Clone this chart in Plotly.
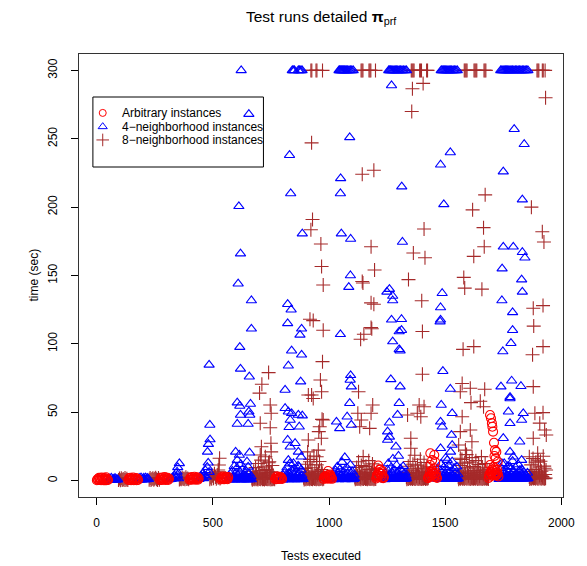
import plotly.graph_objects as go

# ---------------------------------------------------------------------------
# Test-run timings (seconds) by test index, for the three instance families.
# Dense near-zero runs are stored as (first test, test stride, [times]).
# ---------------------------------------------------------------------------

ARB_RUNS = [
    (1, 3, [0.3, 1.2, 0.4, 2.0, 0.5, 1.5, 0.3, 2.2, 0.6, 1.3, 0.2, 1.8, 0.3, 2.4, 0.3, 1.1, 0.4]),
    (136, 3, [0.4, 1.6, 0.5, 2.1, 0.3, 1.4, 0.7, 2.3, 0.3, 1.2, 0.6, 1.9, 0.3, 1.4, 0.5]),
    (272, 3, [0.5, 1.9, 0.4, 2.3, 0.7, 1.5, 0.9, 2.6, 0.5, 1.7, 0.8, 2.1, 0.5, 1.4]),
    (400, 3, [0.6, 2.0, 0.7, 2.6, 0.9, 1.7, 1.1, 2.8, 0.6, 1.9, 1.0, 2.4, 0.7, 1.6]),
    (533, 3, [0.8, 2.2, 1.2, 2.9, 1.1, 1.8, 1.0, 2.7, 1.2, 2.0, 1.0, 2.5]),
    (768, 3, [1.0, 2.4, 1.1, 3.0, 1.2, 2.0, 1.4, 2.8, 1.3, 2.2, 1.2]),
    (977, 3, [1.2, 2.8, 2.5, 1.5, 3.1, 2.2, 1.4, 4.0, 2.8, 1.6, 3.5, 2.0, 1.3]),
    (1203, 3, [1.5, 2.6, 4.2, 3.1, 6.0, 8.2, 5.1, 3.4, 2.2, 7.0, 1.8, 2.4]),
    (1426, 3, [1.8, 3.0, 2.6, 6.2, 4.0, 3.3, 7.5, 5.0, 3.2, 2.6, 4.8, 3.2, 2.6, 1.9]),
    (1687, 3, [2.0, 4.5, 3.0, 6.5, 5.2, 8.0, 3.6, 7.2, 4.4, 9.0, 5.5, 3.8, 6.0, 5.0, 3.0]),
]
ARB_PEAKS = [
    (1693, 48.0), (1697, 45.6), (1701, 42.0), (1703, 39.4), (1706, 35.8), (1710, 27.7),
    (1714, 22.3), (1720, 21.0), (1717, 16.3), (1726, 13.8), (1693, 11.4), (1708, 10.0),
    (1712, 18.0), (1724, 8.0), (1698, 6.0), (1716, 4.0),
    (1436, 20.0), (1453, 18.7), (1444, 15.0), (1457, 13.5), (1436, 11.4), (1453, 9.0),
    (1444, 6.2), (1460, 5.5), (1431, 2.6),
    (1212, 11.0), (1220, 8.0), (1228, 5.0), (1206, 4.0), (996, 7.0), (1004, 4.5),
]

N4_RUNS = [
    (51, 4, [0.3, 1.5, 0.4, 2.0, 0.3, 1.2, 0.7, 1.8, 0.5, 1.1, 0.6]),
    (179, 4, [0.5, 1.8, 0.6, 2.2, 0.7, 1.2, 1.9, 0.6, 2.1, 0.8, 1.7, 1.0]),
    (312, 4, [0.8, 1.2, 1.0, 1.6, 2.4, 1.3, 3.5, 1.9, 2.8, 4.1, 1.5]),
    (440, 4, [1.0, 1.8, 3.2, 2.4, 5.1, 1.6, 4.0, 7.5, 2.8, 9.8, 13.0, 6.2]),
    (568, 4, [1.2, 2.5, 4.8, 1.8, 7.0, 3.3, 10.5, 2.2, 5.6, 9.2, 3.9, 1.5, 6.4,
              12.0, 2.9, 8.1, 4.4, 1.7, 3.6, 6.8, 2.3, 10.0, 5.2, 1.9, 3.1]),
    (799, 4, [1.5, 3.8, 2.2, 6.5, 4.1, 9.6, 2.8, 5.4, 12.4, 3.6, 7.2, 1.9, 4.7,
              8.8, 2.5, 6.0, 3.2, 10.8, 5.0, 2.1, 7.8, 3.9, 1.6]),
    (1016, 4, [1.8, 4.5, 2.6, 7.4, 3.3, 10.2, 5.6, 2.2, 8.4, 4.0, 13.5, 2.9, 6.3,
               17.0, 3.7, 9.5, 5.1, 2.4, 7.0, 11.5, 3.5, 6.6, 2.0, 4.2]),
    (1239, 4, [2.0, 5.2, 3.1, 8.0, 12.5, 4.4, 2.7, 9.4, 6.0, 15.8, 3.6, 7.4, 2.3,
               11.2, 5.5, 18.0, 4.1, 8.6, 3.0, 6.8, 10.4, 2.6, 5.8, 3.4]),
    (1466, 4, [2.2, 4.8, 8.5, 3.4, 12.0, 6.1, 2.8, 9.7, 5.0, 16.5, 3.9, 7.6, 11.0,
               2.5, 6.4, 4.3, 13.8, 3.1, 8.9, 5.6, 2.4, 10.2, 4.5]),
    (1730, 4, [2.5, 5.5, 3.2, 9.0, 6.4, 2.8, 12.6, 4.7, 7.8, 3.5, 10.5, 5.9, 2.6,
               8.3, 4.2, 14.2, 6.9, 3.0, 9.6, 5.1, 3.7, 11.8, 7.2, 2.9, 4.9, 8.0,
               3.3, 6.1, 2.7, 4.4, 3.0, 5.6]),
    # fast runs in between
    (570, 4, [0.6, 1.1, 0.8, 1.5, 0.9, 1.3, 0.7, 1.2, 1.0, 0.8, 1.4, 0.9, 1.1,
              0.7, 1.3, 1.0, 0.8, 1.2, 0.9, 1.5, 0.7, 1.1, 0.9, 1.2, 0.8]),
    (801, 4, [0.7, 1.2, 0.9, 1.6, 1.0, 1.4, 0.8, 1.3, 1.1, 0.9, 1.5, 1.0, 1.2,
              0.8, 1.4, 1.1, 0.9, 1.3, 1.0, 1.6, 0.8, 1.2, 1.0]),
    (1018, 4, [0.8, 1.3, 1.0, 1.7, 1.1, 1.5, 0.9, 1.4, 1.2, 1.0, 1.6, 1.1, 1.3,
               0.9, 1.5, 1.2, 1.0, 1.4, 1.1, 1.7, 0.9, 1.3, 1.1, 1.5]),
    (1241, 4, [0.9, 1.4, 1.1, 1.8, 1.2, 1.6, 1.0, 1.5, 1.3, 1.1, 1.7, 1.2, 1.4,
               1.0, 1.6, 1.3, 1.1, 1.5, 1.2, 1.8, 1.0, 1.4, 1.2, 1.6]),
    (1468, 4, [1.0, 1.5, 1.2, 1.9, 1.3, 1.7, 1.1, 1.6, 1.4, 1.2, 1.8, 1.3, 1.5,
               1.1, 1.7, 1.4, 1.2, 1.6, 1.3, 1.9, 1.1, 1.5, 1.3]),
    (1732, 4, [1.0, 1.6, 1.3, 2.0, 1.4, 1.8, 1.2, 1.7, 1.5, 1.3, 1.9, 1.4, 1.6,
               1.2, 1.8, 1.5, 1.3, 1.7, 1.4, 2.0, 1.2, 1.6, 1.4, 1.8, 1.3, 1.5,
               1.2, 1.7, 1.4, 1.9, 1.3, 1.6]),
]
N4_PEAKS = [
    (655, 268), (830, 238), (1089, 251), (1050, 221), (835, 210), (1049, 210),
    (612, 200.6), (885, 180.6), (1053, 180.6), (1093, 176.7),
    (1269, 289), (1797, 257), (1840, 246), (1522, 240), (1480, 231), (1750, 226),
    (1313, 215), (1494, 202), (1832, 205.5), (1316, 174.5), (1750, 171), (1793, 171),
    (619, 166), (1092, 150), (1085, 141.5), (609, 144), (1249, 138), (666, 131.7),
    (822, 129), (837, 125), (666, 111), (822, 115), (882, 111), (875, 106.6),
    (1049, 107), (616, 97.6), (839, 95), (882, 92), (484, 84.6), (619, 81.7),
    (657, 76), (825, 84), (878, 72.4), (811, 66.3), (1093, 77), (1091, 73.6), (1096, 68.7),
    (1832, 167), (1843, 163), (1745, 155), (1829, 147), (1832, 138), (1260, 140),
    (1274, 135), (1274, 131.7), (1487, 137), (1744, 131.7), (1480, 126.6), (1790, 123),
    (1480, 117.6), (1478, 116.3), (1269, 117.6), (1312, 118), (1790, 110), (1302, 109),
    (1312, 110), (1274, 101.7), (1302, 96), (1306, 95), (1783, 100.5), (1748, 94.4),
    (1490, 80), (1266, 74), (1306, 68.7), (1522, 67), (1740, 68.7), (1786, 73),
    (1826, 69), (1779, 61),
    (605, 57), (616, 54.6), (662, 56), (655, 50.4), (659, 48), (619, 48), (605, 41.4),
    (652, 41.4), (811, 52.9), (825, 50.4), (839, 49.2), (868, 48), (885, 47.5),
    (833, 44.3), (828, 39), (872, 39.4), (487, 40.7), (488, 30), (481, 26.7), (477, 21),
    (356, 12.6), (349, 9.7), (346, 6.4), (598, 21), (614, 18.7), (658, 20.4), (605, 15),
    (647, 13.8), (822, 29.7), (833, 24.8), (854, 27.3), (868, 21), (880, 17.4),
    (825, 15), (847, 12.6), (871, 10),
    (1089, 56.6), (1078, 46.7), (1096, 40.7), (1032, 43), (1046, 38.2), (1302, 56.6),
    (1295, 48), (1260, 42.3), (1252, 35.8), (1260, 32), (1252, 29.7), (1288, 24.8),
    (1483, 55.3), (1530, 49.2), (1480, 43), (1487, 39.4), (1527, 33.3), (1530, 26),
    (1480, 23.6), (1523, 21), (1509, 15), (1779, 60), (1772, 50.4), (1836, 49.2),
    (1829, 44.3), (1779, 41.9), (1750, 31), (1821, 28.4), (1779, 21), (1793, 17.4),
    (1829, 15), (1744, 12.6), (1779, 10), (1822, 7.7),
]
N4_TIMEOUTS = [
    622,
    842, 846, 851, 868, 873, 879, 884,
    1043, 1046, 1050, 1054, 1058, 1062, 1066, 1070, 1075, 1080, 1086, 1092, 1098, 1104,
    1257, 1261, 1265, 1270, 1275, 1280, 1285, 1290, 1296, 1302, 1308, 1314, 1320, 1327, 1333,
    1483, 1487, 1492, 1497, 1502, 1507, 1512, 1517, 1522, 1528, 1534, 1540, 1546, 1552,
    1739, 1744, 1749, 1754, 1759, 1764, 1769, 1774, 1779, 1784, 1790, 1796, 1802, 1808,
    1814, 1820, 1826, 1832, 1838, 1844, 1850, 1856,
]

N8_RUNS = [
    (94, 4, [0.4, 1.6, 0.3, 1.8, 0.5, 1.2, 0.4, 1.9, 0.5, 1.3, 0.4]),
    (226, 4, [0.6, 1.9, 0.5, 1.2, 1.8, 0.6, 1.4, 2.1, 1.0, 0.5, 1.9, 0.7]),
    (356, 4, [0.8, 1.3, 0.9, 2.0, 1.1, 1.6, 0.9, 2.4, 1.2, 1.5, 1.0]),
    (487, 4, [1.0, 2.2, 1.4, 3.5, 1.8, 5.0, 2.6, 1.3, 4.1, 2.0, 6.5, 1.6]),
    (668, 4, [1.5, 3.6, 6.8, 2.4, 9.5, 4.2, 1.8, 12.5, 5.6, 3.0, 15.0, 7.4, 2.2,
              10.0, 4.8, 1.9, 8.2, 3.4, 13.0, 5.9, 2.6, 6.5, 11.0, 3.8, 2.0]),
    (891, 4, [2.0, 4.5, 8.8, 3.1, 12.0, 6.2, 2.4, 15.5, 5.0, 9.4, 3.6, 18.0, 7.0,
              2.8, 11.5, 4.2, 6.6, 14.0, 3.3, 8.0, 5.4, 2.5]),
    (1111, 4, [2.2, 5.0, 9.6, 3.4, 13.8, 6.5, 2.6, 11.0, 4.6, 17.5, 7.8, 3.0, 10.4,
               5.5, 2.4, 14.6, 8.2, 3.8, 6.0, 12.2, 4.4, 9.0, 2.8]),
    (1333, 4, [2.4, 5.8, 10.5, 3.6, 14.0, 7.2, 2.8, 12.0, 4.9, 18.5, 8.6, 3.3, 11.2,
               6.1, 2.6, 15.6, 9.1, 4.0, 6.8, 13.2, 3.5, 7.7, 10.0, 3.0]),
    (1556, 4, [2.5, 6.2, 11.0, 3.8, 15.4, 7.6, 3.0, 12.8, 5.2, 19.0, 9.3, 3.6, 13.5,
               6.4, 2.7, 16.8, 10.2, 4.2, 7.4, 14.6, 3.9, 8.5, 11.8, 3.1, 5.8, 17.5,
               9.8, 4.5, 6.9, 12.4, 3.4, 7.9, 2.9]),
    (1862, 4, [2.6, 6.6, 11.5, 4.0, 16.2, 8.0, 3.2, 13.4, 5.6, 20.0, 9.9, 3.8, 14.2,
               6.8, 2.9, 17.8, 10.6, 4.5, 7.8]),
    # fast runs in between
    (670, 4, [0.7, 1.3, 0.9, 1.6, 1.0, 1.4, 0.8, 1.5, 1.1, 0.9, 1.7, 1.0, 1.2,
              0.8, 1.4, 1.1, 0.9, 1.3, 1.0, 1.6, 0.8, 1.2, 1.0, 1.4, 0.9]),
    (893, 4, [0.8, 1.4, 1.0, 1.7, 1.1, 1.5, 0.9, 1.6, 1.2, 1.0, 1.8, 1.1, 1.3,
              0.9, 1.5, 1.2, 1.0, 1.4, 1.1, 1.7, 0.9, 1.3]),
    (1113, 4, [0.9, 1.5, 1.1, 1.8, 1.2, 1.6, 1.0, 1.7, 1.3, 1.1, 1.9, 1.2, 1.4,
               1.0, 1.6, 1.3, 1.1, 1.5, 1.2, 1.8, 1.0, 1.4, 1.2]),
    (1335, 4, [1.0, 1.6, 1.2, 1.9, 1.3, 1.7, 1.1, 1.8, 1.4, 1.2, 2.0, 1.3, 1.5,
               1.1, 1.7, 1.4, 1.2, 1.6, 1.3, 1.9, 1.1, 1.5, 1.3, 1.7]),
    (1558, 4, [1.0, 1.7, 1.3, 2.0, 1.4, 1.8, 1.2, 1.9, 1.5, 1.3, 2.1, 1.4, 1.6,
               1.2, 1.8, 1.5, 1.3, 1.7, 1.4, 2.0, 1.2, 1.6, 1.4, 1.8, 1.3, 1.5,
               1.2, 1.9, 1.4, 1.7, 1.3, 1.6, 1.2]),
    (1864, 4, [1.1, 1.8, 1.4, 2.1, 1.5, 1.9, 1.3, 2.0, 1.6, 1.4, 2.2, 1.5, 1.7,
               1.3, 1.9, 1.6, 1.4, 1.8]),
]
N8_PEAKS = [
    (925, 247), (1143, 224), (1193, 227), (929, 191), (922, 183.5), (965, 173), (1181, 171),
    (1359, 286.6), (1405, 290.5), (1356, 270), (1932, 280), (1672, 209), (1618, 198),
    (1871, 200), (1409, 184), (1665, 185), (1918, 182), (1925, 174.5), (1668, 171),
    (968, 156.6), (1196, 154), (1143, 145.6), (1146, 144.5), (975, 143), (1181, 130),
    (1193, 129), (918, 118), (932, 117), (975, 110), (1181, 112), (1184, 111),
    (1150, 107), (1136, 103.4), (972, 87), (740, 79), (711, 70.5), (701, 64),
    (963, 73.6), (968, 65), (925, 62.6), (1127, 65),
    (1363, 166.5), (1413, 163), (1623, 164), (1342, 147), (1580, 148.6), (1584, 140.8),
    (1658, 140), (1399, 131.5), (1879, 126), (1921, 128), (1881, 113), (1402, 109),
    (1577, 96), (1623, 98), (1921, 98), (1876, 92), (1402, 77.8), (1573, 71),
    (1608, 67.5), (1670, 66.8), (1565, 65), (1879, 68.7),
    (747, 55.3), (751, 49.2), (704, 41.9), (747, 38.7), (911, 62.6), (932, 60),
    (970, 44.8), (960, 39.4), (956, 35.8), (967, 31), (529, 16.3), (526, 11.4),
    (523, 7.7), (709, 24.8), (704, 18.7), (726, 17.4), (750, 27.3), (751, 21),
    (743, 13.8), (911, 29.7), (908, 21), (918, 13.8), (954, 22.3), (947, 17.4), (975, 44.3),
    (1611, 57), (1651, 58), (1665, 54), (1188, 55.3), (1181, 49.2), (1124, 49.2),
    (1139, 44.3), (1132, 39.4), (1175, 38.2), (1388, 55.3), (1409, 54), (1338, 48),
    (1380, 49.2), (1395, 46.7), (1352, 31), (1352, 23.6), (1573, 46.7), (1565, 35.8),
    (1608, 37), (1615, 28.4), (1558, 26), (1587, 22.3), (1565, 16.3), (1886, 49.2),
    (1921, 49.7), (1907, 42), (1928, 37), (1935, 33.3), (1879, 31), (1862, 17.4),
    (1900, 15), (1928, 9), (1914, 4),
]
N8_TIMEOUTS = [
    922, 926, 944, 948, 972,
    1138, 1142, 1146, 1172, 1176, 1180, 1200,
    1354, 1358, 1362, 1366, 1390, 1394, 1398, 1420, 1424,
    1582, 1586, 1590, 1594, 1624, 1628, 1632, 1636, 1667, 1671, 1675,
    1895, 1899, 1903, 1918, 1922, 1930,
]
TIMEOUT_SEC = 300

X_TICKS = [0, 500, 1000, 1500, 2000]
Y_TICKS = [0, 50, 100, 150, 200, 250, 300]
LEGEND_LABELS = ["Arbitrary instances", "4\u2212neighborhood instances", "8\u2212neighborhood instances"]


def collect(runs, peaks, timeouts=()):
    xs, ys = [], []
    for first, stride, times in runs:
        for i, t in enumerate(times):
            xs.append(first + stride * i)
            ys.append(t)
    for x, t in peaks:
        xs.append(x)
        ys.append(t)
    for x in timeouts:
        xs.append(x)
        ys.append(TIMEOUT_SEC)
    return xs, ys


FONT = "Liberation Sans, Arial, Helvetica, sans-serif"
RED, BLUE, BROWN = "#FF0000", "#0000FF", "#A52A2A"

series = [
    (N8_RUNS, N8_PEAKS, N8_TIMEOUTS, "cross-thin-open", BROWN, 10, LEGEND_LABELS[2]),
    (N4_RUNS, N4_PEAKS, N4_TIMEOUTS, "triangle-up-open", BLUE, 9, LEGEND_LABELS[1]),
    (ARB_RUNS, ARB_PEAKS, (), "circle-open", RED, 9, LEGEND_LABELS[0]),
]

fig = go.Figure()
for runs, peaks, touts, sym, col, size, name in series:
    xs, ys = collect(runs, peaks, touts)
    fig.add_trace(go.Scatter(
        x=xs, y=ys, mode="markers", name=name, showlegend=False,
        marker=dict(symbol=sym, size=size, color=col, line=dict(color=col, width=1.1)),
    ))

# legend drawn on a fixed 0..1 overlay
leg_y = [0.867, 0.836, 0.806]
leg_sym = [("circle-open", RED, 7), ("triangle-up-open", BLUE, 8), ("cross-thin-open", BROWN, 9)]
for (sym, col, size), yy in zip(leg_sym, leg_y):
    fig.add_trace(go.Scatter(
        x=[0.049], y=[yy], xaxis="x2", yaxis="y2", mode="markers", showlegend=False,
        marker=dict(symbol=sym, size=size, color=col, line=dict(color=col, width=1)),
        hoverinfo="skip",
    ))

annotations = [
    dict(text="Test runs detailed <b>\u03c0</b><sub>prf</sub>", x=0.5, y=1, xref="paper", yref="paper",
         xanchor="center", yanchor="middle", yshift=37, showarrow=False,
         font=dict(family=FONT, size=15.5, color="black")),
    dict(text="Tests executed", x=0.5, y=0, xref="paper", yref="paper",
         xanchor="center", yanchor="middle", yshift=-59, showarrow=False,
         font=dict(family=FONT, size=12, color="black")),
    dict(text="time (sec)", x=0, y=0.5, xref="paper", yref="paper", textangle=-90,
         xanchor="center", yanchor="middle", xshift=-46, showarrow=False,
         font=dict(family=FONT, size=12, color="black")),
]
for label, yy in zip(LEGEND_LABELS, leg_y):
    annotations.append(dict(text=label, x=0.084, y=yy, xref="paper", yref="paper",
                            xanchor="left", yanchor="middle", showarrow=False,
                            font=dict(family=FONT, size=12, color="black")))

fig.update_layout(
    width=587, height=566,
    margin=dict(l=79, r=20, t=54, b=69),
    paper_bgcolor="white", plot_bgcolor="white",
    showlegend=False,
    font=dict(family=FONT, size=12, color="black"),
    xaxis=dict(range=[-76, 2007], tickvals=X_TICKS, ticks="outside", ticklen=7,
               tickcolor="black", showgrid=False, zeroline=False, showline=True,
               linecolor="#333", mirror=True, ticklabelstandoff=8,
               tickfont=dict(family=FONT, size=12, color="black")),
    yaxis=dict(range=[-12, 312], tickvals=Y_TICKS, ticks="outside", ticklen=7,
               tickcolor="black", showgrid=False, zeroline=False, showline=True,
               linecolor="#333", mirror=True, tickangle=-90, ticklabelstandoff=9,
               tickfont=dict(family=FONT, size=12, color="black")),
    xaxis2=dict(range=[0, 1], overlaying="x", visible=False, fixedrange=True),
    yaxis2=dict(range=[0, 1], overlaying="y", visible=False, fixedrange=True),
    annotations=annotations,
    shapes=[dict(type="rect", xref="paper", yref="paper",
                 x0=0.0287, x1=0.3811, y0=0.7449, y1=0.9029,
                 line=dict(color="black", width=1), fillcolor="rgba(0,0,0,0)")],
)

fig.write_html("out.html")
